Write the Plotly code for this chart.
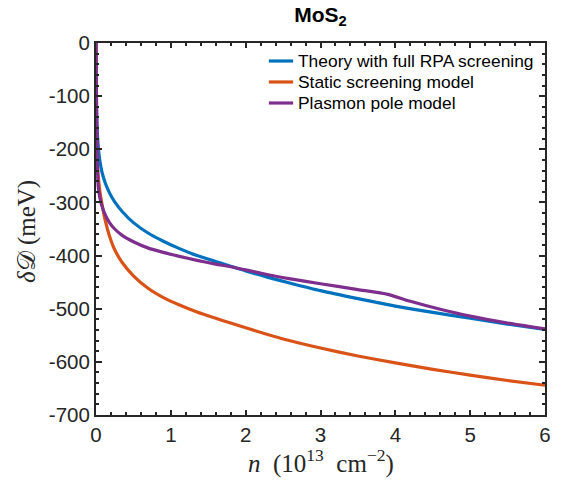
import plotly.graph_objects as go

# Data (n in 10^13 cm^-2, delta D in meV)
x_theory = [0, 0.005, 0.015, 0.03, 0.05, 0.08, 0.12, 0.18, 0.25, 0.35, 0.5, 0.7, 0.9, 1.1, 1.35,
            1.6, 1.8, 2.0, 2.3, 2.6, 3.0, 3.5, 4.0, 4.5, 5.0, 5.5, 6.0]
y_theory = [0, -110, -160, -195, -220, -243, -262, -282, -299, -317, -338, -358, -373, -386, -400,
            -411, -420, -429, -441, -452, -466, -481, -495, -507, -518, -529, -539]

x_static = [0, 0.005, 0.015, 0.03, 0.05, 0.08, 0.12, 0.18, 0.25, 0.35, 0.5, 0.7, 0.9, 1.1, 1.35,
            1.6, 1.8, 2.0, 2.5, 3.0, 3.5, 4.0, 4.5, 5.0, 5.5, 6.0]
y_static = [0, -150, -215, -250, -277, -303, -332, -363, -389, -413, -438, -462, -479, -492, -506,
            -518, -527, -536, -557, -574, -589, -602, -614, -625, -635, -644]

x_plasmon = [0, 0.01, 0.02, 0.03, 0.05, 0.08, 0.12, 0.18, 0.25, 0.35, 0.5, 0.7, 0.9, 1.1, 1.35,
             1.6, 1.8, 2.0, 2.3, 2.6, 3.0, 3.5, 3.9, 4.2, 4.6, 5.0, 5.5, 6.0]
y_plasmon = [0, -150, -240, -270, -290, -307, -322, -338, -350, -362, -374, -386, -394, -401, -409,
             -416, -421, -427, -436, -444, -453, -464, -473, -486, -501, -514, -527, -538]

series_names = ["Theory with full RPA screening", "Static screening model", "Plasmon pole model"]
series_colors = ["#0072BD", "#D95319", "#7E2F8E"]

x_tickvals = [0, 1, 2, 3, 4, 5, 6]
x_ticktext = ["0", "1", "2", "3", "4", "5", "6"]
y_tickvals = [0, -100, -200, -300, -400, -500, -600, -700]
y_ticktext = ["0", "-100", "-200", "-300", "-400", "-500", "-600", "-700"]

title_text = "<b>MoS<sub>2</sub></b>"
x_label = "<i>n</i>&nbsp;&nbsp;(10<sup>13</sup>&nbsp;&nbsp;cm<sup>−2</sup>)"
y_label = "<i>δ</i>𝒟&nbsp;(meV)"

AX = "#262626"

fig = go.Figure()
for xs, ys, name, color in zip([x_theory, x_static, x_plasmon],
                               [y_theory, y_static, y_plasmon],
                               series_names, series_colors):
    fig.add_trace(go.Scatter(x=xs, y=ys, mode="lines", name=name, showlegend=False,
                             line=dict(color=color, width=3.2, shape="spline", smoothing=0.6)))

axis_common = dict(
    showline=True, linecolor=AX, linewidth=2, mirror="allticks",
    ticks="inside", tickwidth=1.5, tickcolor=AX,
    showgrid=False, zeroline=False,
    tickfont=dict(family="Liberation Sans", size=20.5, color=AX),
)

fig.update_xaxes(
    range=[0, 6], tickvals=x_tickvals, ticktext=x_ticktext, ticklen=5,
    minor=dict(ticks="inside", dtick=0.2, ticklen=3, tickwidth=1.5, tickcolor=AX),
    **axis_common,
)
fig.update_yaxes(
    range=[-700, 0], tickvals=y_tickvals, ticktext=y_ticktext, ticklen=6,
    minor=dict(ticks="inside", dtick=20, ticklen=3, tickwidth=1.5, tickcolor=AX),
    **axis_common,
)

# Manual legend (top right, inside the axes, no box)
leg_y = [0.9516, 0.8952, 0.8387]
for name, color, yy in zip(series_names, series_colors, leg_y):
    fig.add_shape(type="line", xref="paper", yref="paper",
                  x0=0.385, x1=0.439, y0=yy, y1=yy,
                  line=dict(color=color, width=3.2))
    fig.add_annotation(text=name, xref="paper", yref="paper", x=0.446, y=yy,
                       xanchor="left", yanchor="middle", showarrow=False,
                       font=dict(family="Liberation Sans", size=17.4, color="black"))

# Axis titles
fig.add_annotation(text=x_label, xref="paper", yref="paper", x=0.5, y=-0.1263,
                   xanchor="center", yanchor="middle", showarrow=False,
                   font=dict(family="Liberation Serif", size=25, color=AX))
fig.add_annotation(text=y_label, xref="paper", yref="paper", x=-0.1537, y=0.4946,
                   xanchor="center", yanchor="middle", showarrow=False, textangle=-90,
                   font=dict(family="Liberation Serif", size=25, color=AX))

fig.update_layout(
    width=565, height=481,
    margin=dict(l=96, r=20, t=43, b=66),
    paper_bgcolor="white", plot_bgcolor="white",
    title=dict(text=title_text, x=0.5673, xanchor="center",
               y=0.985, yanchor="top",
               font=dict(family="Liberation Sans", size=21, color="black")),
    showlegend=False,
)

fig.write_html("out.html")
